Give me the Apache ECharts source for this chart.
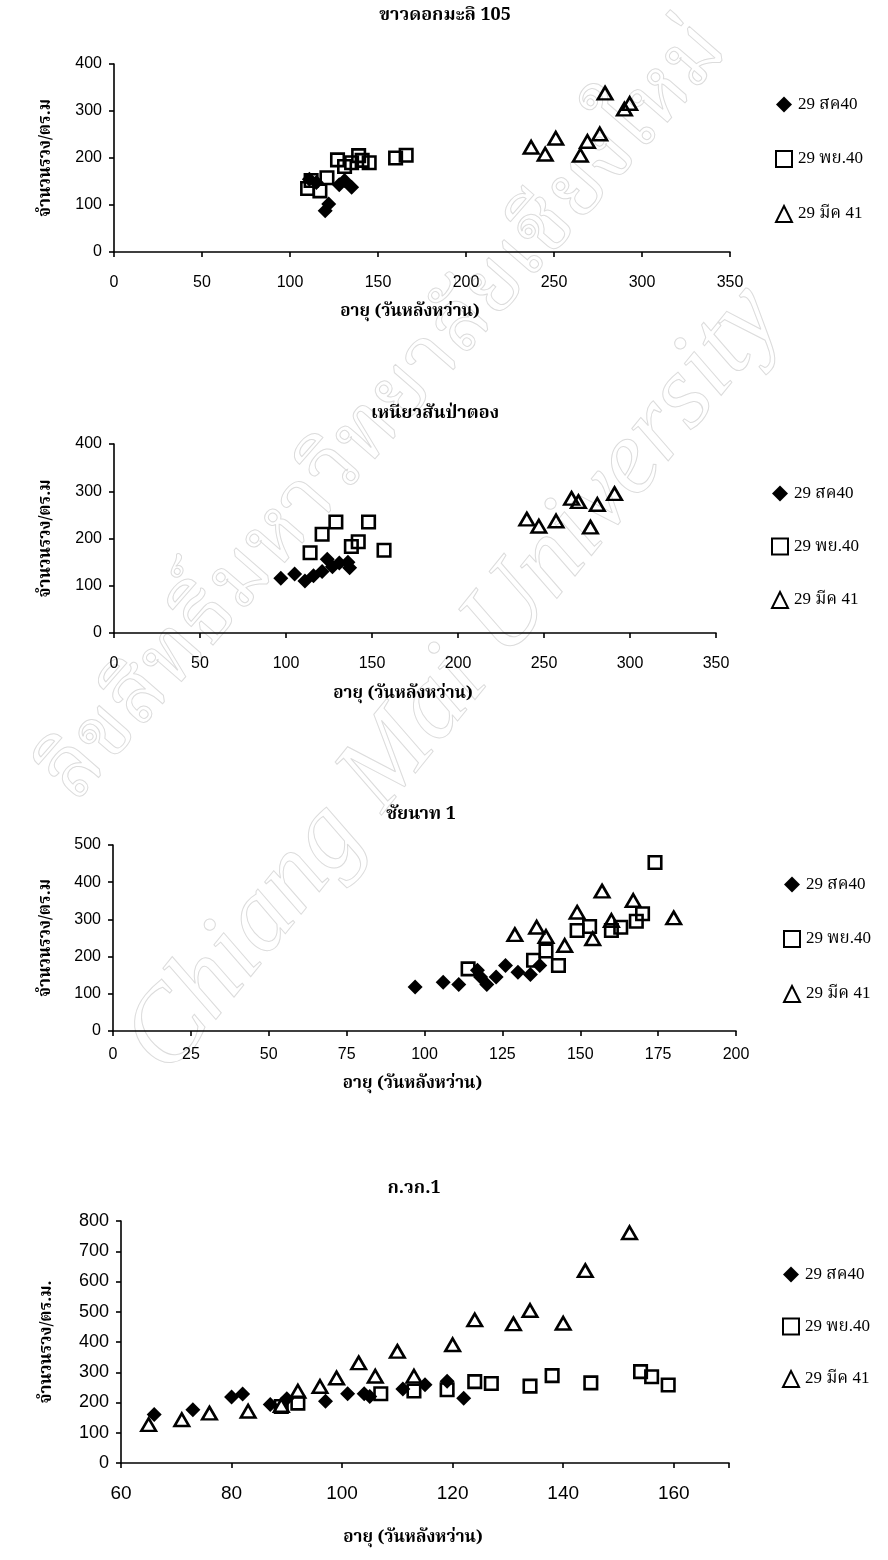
<!DOCTYPE html>
<html>
<head>
<meta charset="utf-8">
<script src="https://cdn.jsdelivr.net/npm/echarts@6.0.0/dist/echarts.min.js"></script>
<style>
  html, body { margin: 0; padding: 0; background: #fff; }
  #chart { width: 888px; height: 1560px; }
</style>
</head>
<body>
<div id="chart"></div>
<script>
// Panicle counts per m² against crop age for four rice varieties, three sowing dates.
const SERIES_NAMES = ['29 สค40', '29 พย.40', '29 มีค 41'];
const PANEL_TITLES = ['ขาวดอกมะลิ 105', 'เหนียวสันป่าตอง', 'ชัยนาท 1', 'ก.วก.1'];
const X_NAME = 'อายุ (วันหลังหว่าน)';
const Y_NAMES = ['จำนวนรวง/ตร.ม', 'จำนวนรวง/ตร.ม', 'จำนวนรวง/ตร.ม', 'จำนวนรวง/ตร.ม.'];

// axis ranges: [min, max, interval]
const X_RANGES = [[0, 350, 50], [0, 350, 50], [0, 200, 25], [60, 170, 20]];
const Y_RANGES = [[0, 400, 100], [0, 400, 100], [0, 500, 100], [0, 800, 100]];

// ขาวดอกมะลิ 105
const kdmlAug = [[111,155],[115,148],[120,88],[122,102],[128,143],[131,152],[135,138]];
const kdmlNov = [[110,135],[112,152],[117,130],[121,158],[127,196],[131,182],[135,190],[139,205],[141,195],[145,190],[160,200],[166,206]];
const kdmlMar = [[237,223],[245,208],[251,242],[265,206],[269,235],[276,251],[279,338],[290,304],[293,316]];

// เหนียวสันป่าตอง
const sptAug = [[97,116],[105,125],[111,110],[116,121],[121,130],[124,156],[127,140],[131,148],[136,150],[137,138]];
const sptNov = [[114,170],[121,209],[129,235],[138,183],[142,193],[148,235],[157,175]];
const sptMar = [[240,241],[247,226],[257,237],[266,285],[270,278],[277,224],[281,272],[291,295]];

// ชัยนาท 1
const cn1Aug = [[97,118],[106,131],[111,125],[117,163],[118,145],[120,125],[123,145],[126,176],[130,158],[134,152],[137,176]];
const cn1Nov = [[114,167],[135,190],[139,215],[143,176],[149,270],[153,281],[160,270],[163,279],[168,295],[170,315],[174,453]];
const cn1Mar = [[129,259],[136,279],[139,254],[145,230],[149,319],[154,248],[157,376],[160,297],[167,351],[180,304]];

// ก.วก.1
const kwkAug = [[66,160],[73,176],[80,218],[82,228],[87,193],[90,212],[97,204],[101,229],[104,229],[105,220],[111,245],[115,259],[119,270],[122,214]];
const kwkNov = [[89,187],[92,198],[107,229],[113,238],[119,242],[124,269],[127,263],[134,254],[138,289],[145,265],[154,302],[156,285],[159,258]];
const kwkMar = [[65,127],[71,143],[76,165],[83,171],[89,190],[92,237],[96,253],[99,281],[103,331],[106,287],[110,369],[113,287],[120,391],[124,473],[131,460],[134,504],[140,462],[144,636],[152,761]];

const PANEL_DATA = [
  [kdmlAug, kdmlNov, kdmlMar],
  [sptAug, sptNov, sptMar],
  [cn1Aug, cn1Nov, cn1Mar],
  [kwkAug, kwkNov, kwkMar]
];

// page layout of each panel (pixels)
const LAYOUT = [
  { grid: {left: 114, top: 64, width: 616, height: 188}, titleX: 440, titleY: 3,
    legendX: 770, legendY: 91, legendGap: 37, xGap: 53, yGap: 58, labelSize: 16, xMargin: 23 },
  { grid: {left: 114, top: 444, width: 602, height: 189}, titleX: 430, titleY: 401,
    legendX: 766, legendY: 480, legendGap: 35.5, xGap: 54, yGap: 58, labelSize: 16, xMargin: 23 },
  { grid: {left: 113, top: 845, width: 623, height: 186}, titleX: 416, titleY: 802,
    legendX: 778, legendY: 871, legendGap: 37, xGap: 46, yGap: 57, labelSize: 16, xMargin: 16 },
  { grid: {left: 121, top: 1221, width: 608, height: 242}, titleX: 409, titleY: 1176,
    legendX: 777, legendY: 1261, legendGap: 34.5, xGap: 68, yGap: 64, labelSize: 18, xMargin: 21 }
];

const THAI_FONT = "'Noto Serif Thai','Noto Sans Thai','Tlwg Typo','Loma','Liberation Serif',serif";
const NUM_FONT = "'Liberation Sans', Arial, sans-serif";

const SYMBOLS = [
  { symbol: 'diamond', symbolSize: 15, itemStyle: { color: '#000', opacity: 1 } },
  { symbol: 'rect', symbolSize: 12.5, itemStyle: { color: 'rgba(255,255,255,0)', borderColor: '#000', borderWidth: 2.6, opacity: 1 } },
  { symbol: 'triangle', symbolSize: [14.5, 12.5], itemStyle: { color: 'rgba(255,255,255,0)', borderColor: '#000', borderWidth: 2.6, opacity: 1 } }
];

const axisLine = { show: true, lineStyle: { color: '#000', width: 1.6 } };
const axisTick = { show: true, inside: false, length: 5, lineStyle: { color: '#000', width: 1.6 } };
const boldThai = { fontFamily: THAI_FONT, fontSize: 17, fontWeight: 'bold', color: '#000' };

// faint outlined watermark lettering behind the plots
const WATERMARKS = [
  { text: 'ลิขสิทธิ์มหาวิทยาลัยเชียงใหม่', x: 392, y: 418, angle: 49, font: "normal 84px " + THAI_FONT },
  { text: 'Chiang Mai University', x: 455, y: 680, angle: 51, font: "italic 106px 'Liberation Serif', serif" }
];

const option = {
  backgroundColor: '#fff',
  animation: false,
  title: [], grid: [], xAxis: [], yAxis: [], legend: [], series: [],
  graphic: WATERMARKS.map(w => ({
    type: 'text', x: w.x, y: w.y, rotation: w.angle * Math.PI / 180, z: 0, silent: true,
    style: { text: w.text, font: w.font, fill: 'rgba(0,0,0,0)', stroke: '#dcdcdc', lineWidth: 1,
             align: 'center', verticalAlign: 'middle' }
  }))
};

LAYOUT.forEach((L, i) => {
  const [xmin, xmax, xint] = X_RANGES[i];
  const [ymin, ymax, yint] = Y_RANGES[i];
  option.title.push({
    text: PANEL_TITLES[i], left: L.titleX, top: L.titleY, textAlign: 'center',
    textStyle: { fontFamily: THAI_FONT, fontSize: 18, fontWeight: 'bold', color: '#000' }
  });
  option.grid.push(Object.assign({ containLabel: false }, L.grid));
  option.xAxis.push({
    type: 'value', gridIndex: i, min: xmin, max: xmax, interval: xint,
    splitLine: { show: false }, axisLine, axisTick,
    axisLabel: {
      color: '#000', fontFamily: NUM_FONT, fontSize: i === 3 ? 19 : 16, margin: L.xMargin,
      formatter: v => ((v - xmin) % xint === 0 ? String(v) : '')
    },
    name: X_NAME, nameLocation: 'middle', nameGap: L.xGap,
    nameTextStyle: Object.assign({ padding: [0, 24, 0, 0] }, boldThai)
  });
  option.yAxis.push({
    type: 'value', gridIndex: i, min: ymin, max: ymax, interval: yint,
    splitLine: { show: false }, axisLine, axisTick,
    axisLabel: { color: '#000', fontFamily: NUM_FONT, fontSize: L.labelSize, margin: 12 },
    name: Y_NAMES[i], nameLocation: 'middle', nameGap: L.yGap, nameRotate: 90,
    nameTextStyle: boldThai
  });
  option.legend.push({
    orient: 'vertical', left: L.legendX, top: L.legendY,
    itemWidth: 16, itemHeight: 16, itemGap: L.legendGap,
    selectedMode: false,
    data: SERIES_NAMES,
    textStyle: { fontFamily: "'Liberation Serif'," + THAI_FONT, fontSize: 17, color: '#000', padding: [0, 0, 0, 1] }
  });
  PANEL_DATA[i].forEach((d, k) => {
    option.series.push(Object.assign({
      type: 'scatter', name: SERIES_NAMES[k],
      xAxisIndex: i, yAxisIndex: i, data: d, z: 3,
      emphasis: { disabled: true }
    }, JSON.parse(JSON.stringify(SYMBOLS[k]))));
  });
});

const chart = echarts.init(document.getElementById('chart'), null, { renderer: 'canvas' });
chart.setOption(option);
</script>
</body>
</html>
